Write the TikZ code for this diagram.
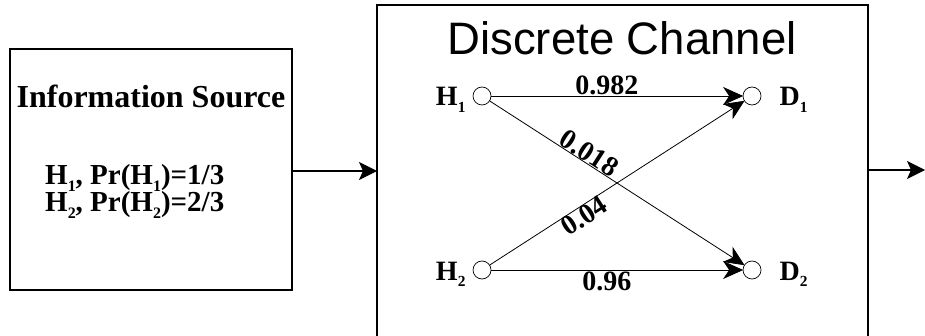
\documentclass[tikz,border=0pt]{standalone}
\usepackage{fontspec}
\setmainfont{Liberation Serif}
\newfontfamily\titlefont{Liberation Sans}
\usetikzlibrary{arrows.meta}
\newcommand{\sbs}[1]{\raisebox{-0.22em}{\fontsize{0.55em}{0.55em}\selectfont #1}}
\begin{document}
\begin{tikzpicture}[x=1pt,y=-1pt,
  box/.style={draw,line width=1.6pt},
  state/.style={draw,circle,minimum size=18pt,inner sep=0pt,line width=0.7pt},
  arr/.style={line width=1.3pt,-{Stealth[length=18pt,width=18pt,inset=4pt]}},
  tr/.style={line width=0.8pt,-{Stealth[length=20pt,width=18pt,inset=6pt]},shorten >=-0.5pt},
  lbl/.style={font=\fontsize{28}{28}\selectfont\bfseries,inner sep=1pt},
  txt/.style={font=\fontsize{28}{28}\selectfont\bfseries},
  srctxt/.style={font=\fontsize{29}{29}\selectfont\bfseries}]
\useasboundingbox (0,0) rectangle (925,336);
\begin{scope}
\clip (0,0) rectangle (925,336);
% boxes
\draw[box] (10,49) rectangle (292,290);
\draw[box] (377,5) rectangle (868,360);
\coordinate (srcR) at (292,171);
\coordinate (chL) at (377,171);
\coordinate (chR) at (868,170);
\coordinate (out) at (925,170);
\node[font=\fontsize{32}{32}\selectfont\bfseries,anchor=base] (srct) at (151,108) {Information Source};
\node[srctxt,anchor=base west,inner sep=0pt] (l1) at (45,185) {H\sbs{1}, Pr(H\sbs{1})=1/3};
\node[srctxt,anchor=base west,inner sep=0pt] (l2) at (45,212) {H\sbs{2}, Pr(H\sbs{2})=2/3};
\node[font=\titlefont\fontsize{45.5}{45.5}\selectfont,anchor=base,inner sep=0pt] (cht) at (622,55) {Discrete Channel};
% states
\node[state] (h1) at (482,96) {};
\node[state] (h2) at (482,270) {};
\node[state] (d1) at (752,96) {};
\node[state] (d2) at (752,270) {};
\node[txt,anchor=base east] (h1l) at (469,106) {H\sbs{1}};
\node[txt,anchor=base east] (h2l) at (469,280) {H\sbs{2}};
\node[txt,anchor=base west] (d1l) at (776,106) {D\sbs{1}};
\node[txt,anchor=base west] (d2l) at (776,280) {D\sbs{2}};
% transitions
\draw[tr] (h1) -- node[lbl,above,pos=0.46] {0.982} (d1);
\draw[tr] (h2) -- node[lbl,below,pos=0.46] {0.96} (d2);
\draw[tr] (h1) -- node[lbl,above,sloped,pos=0.37,inner sep=0pt] {0.018} (d2);
\draw[tr] (h2) -- node[lbl,below,sloped,pos=0.35,inner sep=0pt] {0.04} (d1);
% block arrows
\draw[arr] (srcR) -- (chL);
\draw[arr] (chR) -- (out);
\end{scope}
\end{tikzpicture}
\end{document}
